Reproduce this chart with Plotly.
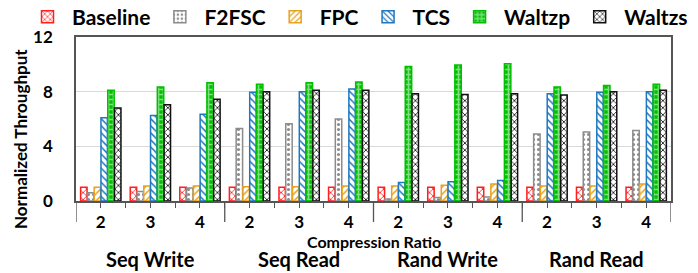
import plotly.graph_objects as go

groups = ["Seq Write", "Seq Read", "Rand Write", "Rand Read"]
ratios = ["2", "3", "4"]

baseline = [1.0, 1.0, 1.0, 1.0, 1.0, 1.0, 1.0, 1.0, 1.0, 1.0, 1.0, 1.0]
f2fsc = [0.6, 0.7, 0.95, 5.3, 5.65, 6.0, 0.15, 0.25, 0.3, 4.9, 5.05, 5.15]
fpc = [1.0, 1.1, 1.1, 1.05, 1.05, 1.1, 1.1, 1.15, 1.25, 1.1, 1.1, 1.25]
tcs = [6.1, 6.25, 6.35, 7.95, 8.0, 8.2, 1.35, 1.4, 1.5, 7.85, 7.95, 8.0]
waltzp = [8.1, 8.35, 8.65, 8.55, 8.65, 8.7, 9.85, 9.95, 10.05, 8.35, 8.45, 8.55]
waltzs = [6.8, 7.05, 7.45, 8.0, 8.1, 8.1, 7.85, 7.8, 7.85, 7.75, 8.0, 8.1]

series = [
    ("Baseline", baseline, "#FF1F1F", "x"),
    ("F2FSC", f2fsc, "#8C8C8C", "."),
    ("FPC", fpc, "#E9A21B", "/"),
    ("TCS", tcs, "#1F77BF", "\\"),
    ("Waltzp", waltzp, "#00C000", "."),
    ("Waltzs", waltzs, "#111111", "x"),
]

cats = [(g, r) for g in groups for r in ratios]
xpos = list(range(len(cats)))
ticktext = [r for g, r in cats]

FONT = "Lato"
PW, PH = 595, 164

fig = go.Figure()
for name, vals, col, shape in series:
    if name == "Waltzp":
        pattern = dict(shape="+", fgcolor="white", bgcolor=col, size=5,
                       solidity=0.55, fillmode="overlay")
    else:
        pattern = dict(shape=shape, fgcolor=col, bgcolor="white", size=5,
                       solidity=0.3, fillmode="replace")
    marker = dict(color=col, line=dict(color=col, width=1.5), pattern=pattern)
    fig.add_trace(go.Bar(x=xpos, y=vals, name=name, marker=marker))

shapes = []
for b in [-0.5, 2.5, 5.5, 8.5, 11.5]:
    shapes.append(dict(type="line", xref="x", yref="paper", x0=b, x1=b,
                       y0=0, y1=-21 / PH, line=dict(color="#555555", width=1.3)))

annotations = []
for gi, g in enumerate(groups):
    annotations.append(dict(x=gi * 3 + 1, xref="x", y=0, yref="paper",
                            yshift=-58, yanchor="middle", showarrow=False,
                            text=g, font=dict(family=FONT, size=20, color="black", weight="bold")))
annotations.append(dict(x=0.5, xref="paper", y=0, yref="paper", yshift=-40,
                        yanchor="middle", showarrow=False, text="Compression Ratio",
                        font=dict(family=FONT, size=16, color="black", weight="bold")))
annotations.append(dict(x=(20 - 76) / PW, xref="paper", y=(201 - 139) / PH, yref="paper",
                        xanchor="center", yanchor="middle", textangle=-90, showarrow=False,
                        text="Normalized Throughput",
                        font=dict(family=FONT, size=17, color="black", weight="bold")))

fig.update_layout(
    width=698, height=273,
    margin=dict(l=76, r=27, t=37, b=72, autoexpand=False),
    paper_bgcolor="white", plot_bgcolor="white",
    barmode="group", bargap=0.18, bargroupgap=0.05,
    font=dict(family=FONT, color="black"),
    legend=dict(orientation="h", x=(23 - 76) / PW, xanchor="left",
                y=1 + (37 - 17) / PH, yanchor="middle", itemwidth=39,
                font=dict(family=FONT, size=21, color="black", weight="bold"),
                bgcolor="rgba(0,0,0,0)"),
    shapes=shapes,
    annotations=annotations,
)
fig.update_xaxes(
    range=[-0.5, 11.5], tickmode="array", tickvals=xpos, ticktext=ticktext,
    ticks="outside", ticklen=5, tickcolor="#555555", tickwidth=1.2,
    minor=dict(tickmode="array", tickvals=[i + 0.5 for i in xpos[:-1]],
               ticks="outside", ticklen=5, tickcolor="#555555", tickwidth=1.2),
    showline=True, linecolor="#555555", linewidth=1.5, mirror=True,
    showgrid=False, zeroline=False,
    tickfont=dict(family=FONT, size=17, color="black", weight="bold"),
)
fig.update_yaxes(
    range=[0, 12], tickvals=[0, 4, 8, 12],
    showline=True, linecolor="#555555", linewidth=1.5, mirror=True,
    showgrid=True, gridcolor="#D9D9D9", gridwidth=1, zeroline=False,
    ticks="", ticklabelstandoff=18,
    tickfont=dict(family=FONT, size=17, color="black", weight="bold"),
)

fig.write_html("out.html", config={"displayModeBar": False},
               post_script="document.body.style.margin='0';document.body.style.overflow='hidden';")
